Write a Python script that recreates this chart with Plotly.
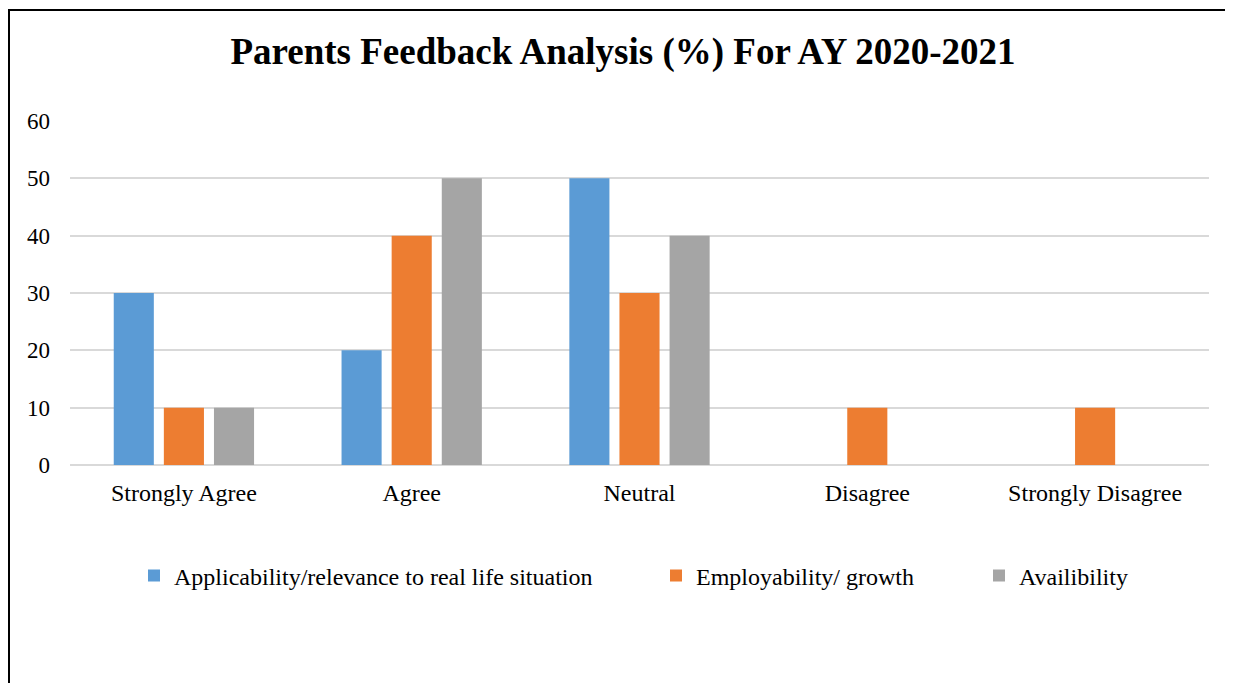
import plotly.graph_objects as go

categories = ["Strongly Agree", "Agree", "Neutral", "Disagree", "Strongly Disagree"]
series_names = ["Applicability/relevance to real life situation", "Employability/ growth", "Availibility"]
applicability = [30, 20, 50, 0, 0]
employability = [10, 40, 30, 10, 10]
availibility = [10, 50, 40, 0, 0]
colors = ["#5B9BD5", "#ED7D31", "#A5A5A5"]
y_ticks = [0, 10, 20, 30, 40, 50, 60]

OFF = 8  # page body margin
W, H = 1233 - OFF, 683 - OFF
plot_left, plot_right, plot_top, plot_bottom = 70 - OFF, 1209 - OFF, 121 - OFF, 465 - OFF
ml, mr, mt, mb = plot_left, W - plot_right, plot_top, H - plot_bottom
pw, ph = W - ml - mr, H - mt - mb

font_family = "Liberation Serif, Times New Roman, serif"

fig = go.Figure()
legend_ids = ["legend", "legend2", "legend3"]
for name, vals, col, lg in zip(series_names, [applicability, employability, availibility], colors, legend_ids):
    fig.add_trace(go.Bar(x=categories, y=vals, name=name, marker=dict(color=col, line=dict(width=0)),
                         legend=lg))

def sx(px):
    return (px - OFF - ml) / pw

def sy(py):
    return (H - mb - (py - OFF)) / ph

legend_x_px = [134 - OFF, 656 - OFF, 979 - OFF]
legend_common = dict(orientation="h", yref="container", xref="container", y=1 - (576 - OFF) / H,
                     yanchor="middle", xanchor="left",
                     font=dict(family=font_family, size=24, color="#000000"),
                     bgcolor="rgba(0,0,0,0)", itemwidth=30, itemsizing="constant")

layout_legends = {}
for lg, lx in zip(legend_ids, legend_x_px):
    layout_legends[lg] = dict(legend_common, x=lx / W)

fig.update_layout(
    width=W, height=H,
    margin=dict(l=ml, r=mr, t=mt, b=mb),
    paper_bgcolor="white", plot_bgcolor="white",
    title=dict(text="<b>Parents Feedback Analysis (%) For AY 2020-2021</b>", xref="container",
               x=(623 - OFF) / W, xanchor="center", yref="container", y=1 - (51 - OFF) / H,
               yanchor="middle", font=dict(family=font_family, size=37, color="#000000")),
    barmode="group", bargap=0.34, bargroupgap=0.2,
    showlegend=True,
    font=dict(family=font_family, size=24, color="#000000"),
    xaxis=dict(showgrid=False, showline=False, ticks="", tickfont=dict(size=24, family=font_family),
               ticklabelstandoff=11, fixedrange=True),
    yaxis=dict(range=[0, 60], tickvals=y_ticks, showgrid=True, gridcolor="#D9D9D9", gridwidth=1.5,
               zeroline=True, zerolinecolor="#D9D9D9", zerolinewidth=1.5, showline=False, ticks="",
               tickfont=dict(size=23, family=font_family), ticklabelstandoff=19),
    shapes=[
        dict(type="line", xref="paper", yref="paper", x0=sx(9), x1=sx(9),
             y0=sy(10), y1=sy(700), line=dict(color="#000000", width=2)),
        dict(type="line", xref="paper", yref="paper", x0=sx(8), x1=sx(1250),
             y0=sy(10), y1=sy(10), line=dict(color="#000000", width=2)),
    ],
    **layout_legends,
)

fig.write_html("out.html")
